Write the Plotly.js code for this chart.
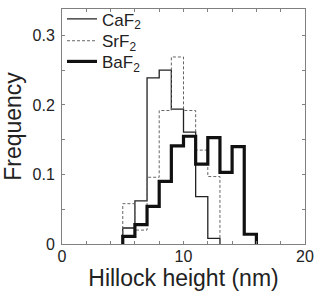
<!DOCTYPE html>
<html>
<head>
<meta charset="utf-8">
<script src="https://cdn.plot.ly/plotly-3.0.1.min.js"></script>
<style>html,body{margin:0;padding:0;background:#fff;}#chart{width:315px;height:294px;}</style>
</head>
<body>
<div id="chart"></div>
<script>
// Bin left edges (nm), bin width 1 nm
const binStart = 5;
const binWidth = 1;
const seriesNames = ['CaF<sub>2</sub>', 'SrF<sub>2</sub>', 'BaF<sub>2</sub>'];
const caf2 = [0.023, 0.062, 0.239, 0.250, 0.194, 0.161, 0.068, 0.008];
const srf2 = [0.058, 0.020, 0.096, 0.192, 0.269, 0.192, 0.135, 0.097];
const baf2 = [0.011, 0.028, 0.054, 0.090, 0.141, 0.155, 0.115, 0.153, 0.103, 0.140, 0.014];
const xTickVals = [0, 2, 4, 6, 8, 10, 12, 14, 16, 18, 20];
const xTickText = ['0', '', '', '', '', '10', '', '', '', '', '20'];
const yTickVals = [0, 0.05, 0.1, 0.15, 0.2, 0.25, 0.3];
const yTickText = ['0', '', '0.1', '', '0.2', '', '0.3'];

function stepOutline(vals) {
  const x = [binStart], y = [0];
  vals.forEach((v, i) => { x.push(binStart + i * binWidth); y.push(v); });
  x.push(binStart + vals.length * binWidth); y.push(0);
  return {x, y};
}

const styles = [
  {color: '#222', width: 1.3, dash: 'solid'},
  {color: '#666', width: 1, dash: '3px,2px'},
  {color: '#111', width: 3.2, dash: 'solid'}
];
const legendIds = ['legend', 'legend2', 'legend3'];
const legendY = [0.956, 0.863, 0.775];
const traces = [caf2, srf2, baf2].map((vals, i) => {
  const s = stepOutline(vals);
  return {
    type: 'scatter', mode: 'lines', x: s.x, y: s.y, name: seriesNames[i], legend: legendIds[i],
    line: {shape: 'hv', color: styles[i].color, width: styles[i].width, dash: styles[i].dash}
  };
});

const font = 'Liberation Sans, Arial, sans-serif';
const axisCommon = {
  showline: true, linecolor: '#808080', linewidth: 1, mirror: 'ticks',
  ticks: 'inside', ticklen: 3, tickcolor: '#808080', tickwidth: 1,
  showgrid: false, zeroline: false,
  tickfont: {family: font, size: 16, color: '#222'}
};
const layout = {
  width: 315, height: 294,
  margin: {l: 62, r: 10, t: 1, b: 50},
  paper_bgcolor: '#fff', plot_bgcolor: '#fff',
  showlegend: true,
  xaxis: Object.assign({}, axisCommon, {
    range: [0, 20], tickmode: 'array', tickvals: xTickVals, ticktext: xTickText,
    ticklabelstandoff: -2,
    title: {text: 'Hillock height (nm)', font: {family: font, size: 23, color: '#222'}, standoff: 0}
  }),
  yaxis: Object.assign({}, axisCommon, {
    range: [0, 0.338], tickmode: 'array', tickvals: yTickVals, ticktext: yTickText,
    ticklabelstandoff: 3,
    title: {text: 'Frequency', font: {family: font, size: 23, color: '#222'}, standoff: 8}
  })
};
legendIds.forEach((id, i) => {
  layout[id] = {x: 0.0, y: legendY[i], xanchor: 'left', yanchor: 'middle', bgcolor: 'rgba(0,0,0,0)',
                font: {family: font, size: 17, color: '#222'}, itemwidth: 30};
});
Plotly.newPlot('chart', traces, layout, {displayModeBar: false, staticPlot: true});
</script>
</body>
</html>
